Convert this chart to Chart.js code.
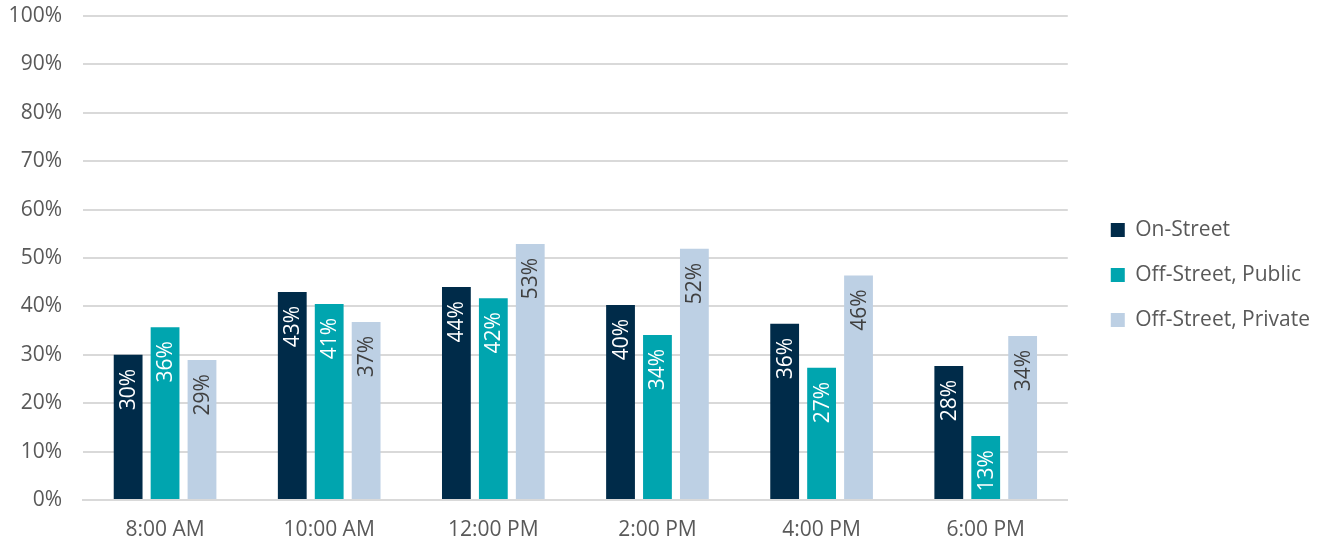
<!DOCTYPE html>
<html>
<head>
<meta charset="utf-8">
<script src="https://cdn.jsdelivr.net/npm/chart.js@4.4.1/dist/chart.umd.min.js"></script>
<style>
  html, body { margin: 0; padding: 0; background: #fff; }
  #wrap { width: 1320px; height: 544px; }
</style>
</head>
<body>
<div id="wrap"><canvas id="chart"></canvas></div>
<script>
// chart data
const times = ['8:00 AM', '10:00 AM', '12:00 PM', '2:00 PM', '4:00 PM', '6:00 PM'];
const onStreet = [30.0, 43.0, 44.0, 40.3, 36.4, 27.7];
const offStreetPublic = [35.7, 40.5, 41.7, 34.1, 27.3, 13.2];
const offStreetPrivate = [28.9, 36.8, 52.9, 51.9, 46.4, 33.9];
const yTicks = [0, 10, 20, 30, 40, 50, 60, 70, 80, 90, 100];

const fontFamily = '"Open Sans", "Segoe UI", sans-serif';
const legendShift = 19;

// draws the rotated % labels at the top inside each bar
const barLabels = {
    id: 'barLabels',
    afterDatasetsDraw(chart) {
        const ctx = chart.ctx;
        chart.data.datasets.forEach((ds, i) => {
            const meta = chart.getDatasetMeta(i);
            meta.data.forEach((bar, j) => {
                const text = Math.round(ds.data[j]) + '%';
                ctx.save();
                ctx.translate(bar.x, bar.y + 14);
                ctx.rotate(-Math.PI / 2);
                ctx.font = '21px ' + fontFamily;
                ctx.fillStyle = ds.labelColor;
                ctx.textAlign = 'right';
                ctx.textBaseline = 'middle';
                ctx.fillText(text, 0, 1);
                ctx.restore();
            });
        });
    }
};

// give the legend a bit more room on its left side
const legendGap = {
    id: 'legendGap',
    beforeInit(chart) {
        const fit = chart.legend.fit;
        chart.legend.fit = function () {
            fit.call(this);
            this.width += legendShift;
        };
    },
    afterLayout(chart) {
        chart.legend.left += legendShift;
        chart.legend.top += 6;
    }
};

const chart = new Chart(document.getElementById('chart'), {
    type: 'bar',
    data: {
        labels: times,
        datasets: [
            { label: 'On-Street', data: onStreet, backgroundColor: '#002B49', labelColor: '#ffffff' },
            { label: 'Off-Street, Public', data: offStreetPublic, backgroundColor: '#00A5AF', labelColor: '#ffffff' },
            { label: 'Off-Street, Private', data: offStreetPrivate, backgroundColor: '#BDD0E4', labelColor: '#404040' }
        ]
    },
    options: {
        responsive: true,
        maintainAspectRatio: false,
        animation: false,
        datasets: { bar: { barPercentage: 0.78, categoryPercentage: 0.675 } },
        layout: { padding: { top: 0, right: 0, left: 0, bottom: 0 } },
        plugins: {
            legend: {
                position: 'right',
                labels: {
                    font: { family: fontFamily, size: 21 },
                    color: '#595959',
                    boxWidth: 14,
                    boxHeight: 14,
                    padding: 24
                }
            },
            tooltip: { enabled: false }
        },
        scales: {
            x: {
                afterFit: (axis) => { axis.height = 44; },
                grid: { display: false, drawTicks: false },
                border: { color: '#d9d9d9', width: 2 },
                ticks: { font: { family: fontFamily, size: 21 }, color: '#595959', padding: 17 }
            },
            y: {
                min: 0,
                max: 100,
                afterBuildTicks: (axis) => { axis.ticks = yTicks.map(v => ({ value: v })); },
                afterFit: (axis) => {
                    axis.width = 83;
                    axis.paddingTop = 16;
                },
                grid: { color: '#d9d9d9', lineWidth: 2, drawTicks: false },
                border: { display: false },
                ticks: {
                    font: { family: fontFamily, size: 21 },
                    color: '#595959',
                    padding: 21,
                    callback: (v) => v + '%'
                }
            }
        }
    },
    plugins: [barLabels, legendGap]
});
</script>
</body>
</html>
